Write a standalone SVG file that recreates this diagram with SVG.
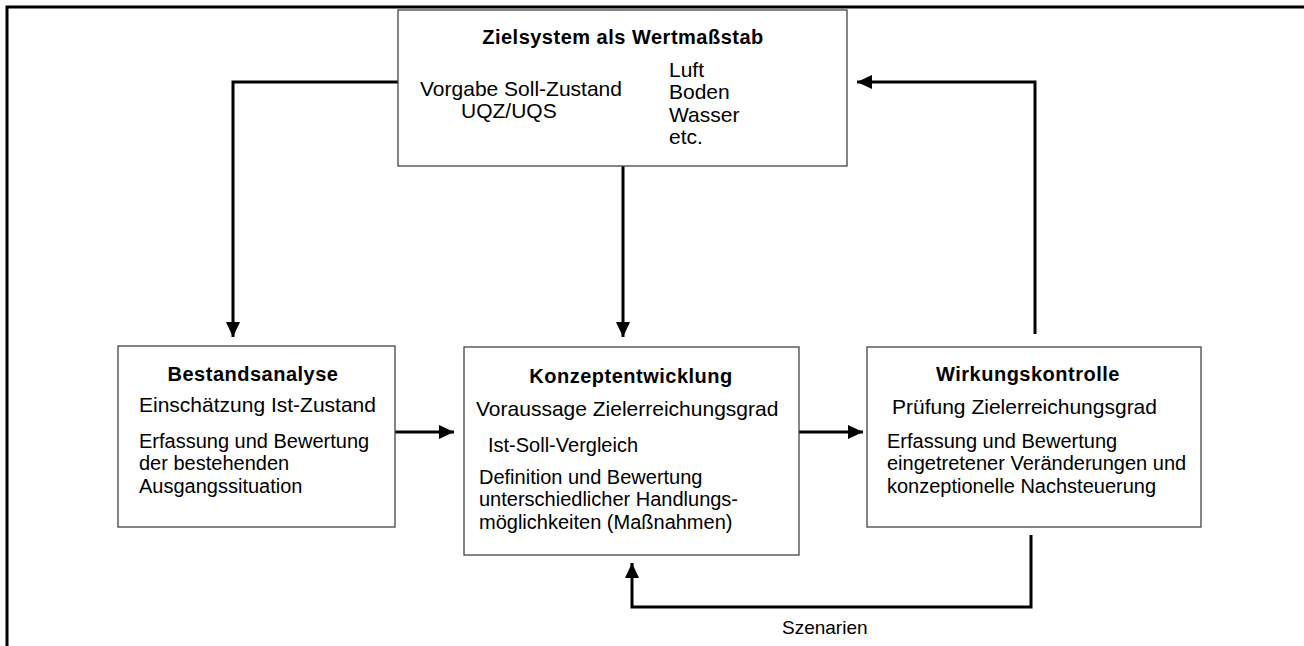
<svg xmlns="http://www.w3.org/2000/svg" width="1304" height="646" viewBox="0 0 1304 646">
<defs>
<marker id="ah" markerUnits="userSpaceOnUse" markerWidth="16" markerHeight="14" refX="15" refY="7" orient="auto">
<path d="M0,0 L15,7 L0,14 Z" fill="#000"/>
</marker>
<style>
.box{fill:#fff;stroke:#444;stroke-width:1.3}
.t{font-family:"Liberation Sans",Arial,sans-serif;fill:#000}
.h{font-size:20px;font-weight:bold;letter-spacing:0.5px;text-anchor:middle}
.s{font-size:21px}
.b{font-size:20px}
.c{fill:none;stroke:#000;stroke-width:3}
</style>
</defs>
<rect width="1304" height="646" fill="#fff"/>
<g id="frame"><path class="c" d="M7,646 L7,7 L1304,7"/></g>
<g id="connectors">
<path class="c" d="M398,82 L233,82 L233,337" marker-end="url(#ah)"/>
<path class="c" d="M623,166 L623,337" marker-end="url(#ah)"/>
<path class="c" d="M395,432 L454,432" marker-end="url(#ah)"/>
<path class="c" d="M799,432 L863,432" marker-end="url(#ah)"/>
<path class="c" d="M1035,334 L1035,82 L857,82" marker-end="url(#ah)"/>
<path class="c" d="M1031,535 L1031,607 L632,607 L632,563" marker-end="url(#ah)"/>
<text class="t" x="782" y="634" font-size="19">Szenarien</text>
</g>
<g id="zielsystem">
<rect class="box" x="398" y="10" width="449" height="156"/>
<text class="t h" x="623" y="44">Zielsystem als Wertmaßstab</text>
<text class="t s" x="420" y="96">Vorgabe Soll-Zustand</text>
<text class="t s" x="461" y="118">UQZ/UQS</text>
<text class="t s" x="669" y="77">Luft</text>
<text class="t s" x="669" y="99">Boden</text>
<text class="t s" x="669" y="122">Wasser</text>
<text class="t s" x="669" y="144">etc.</text>
</g>
<g id="bestandsanalyse">
<rect class="box" x="118" y="346" width="277" height="181"/>
<text class="t h" x="253" y="381">Bestandsanalyse</text>
<text class="t s" x="139" y="412">Einschätzung Ist-Zustand</text>
<text class="t b" x="139" y="448">Erfassung und Bewertung</text>
<text class="t b" x="139" y="470">der bestehenden</text>
<text class="t b" x="139" y="493">Ausgangssituation</text>
</g>
<g id="konzeptentwicklung">
<rect class="box" x="464" y="347" width="335" height="208"/>
<text class="t h" x="631" y="383">Konzeptentwicklung</text>
<text class="t s" x="476" y="416">Voraussage Zielerreichungsgrad</text>
<text class="t b" x="488" y="452">Ist-Soll-Vergleich</text>
<text class="t b" x="479" y="484">Definition und Bewertung</text>
<text class="t b" x="479" y="506">unterschiedlicher Handlungs-</text>
<text class="t b" x="479" y="529">möglichkeiten (Maßnahmen)</text>
</g>
<g id="wirkungskontrolle">
<rect class="box" x="867" y="347" width="334" height="180"/>
<text class="t h" x="1028" y="381">Wirkungskontrolle</text>
<text class="t s" x="892" y="414">Prüfung Zielerreichungsgrad</text>
<text class="t b" x="887" y="448">Erfassung und Bewertung</text>
<text class="t b" x="887" y="470">eingetretener Veränderungen und</text>
<text class="t b" x="887" y="493">konzeptionelle Nachsteuerung</text>
</g>
</svg>
